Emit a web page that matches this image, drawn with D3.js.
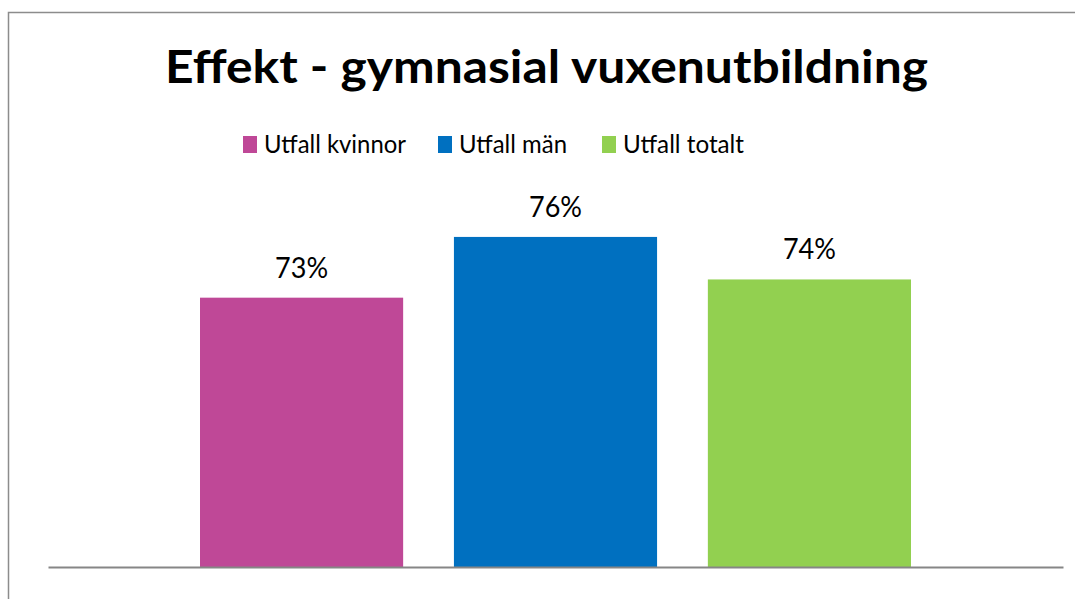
<!DOCTYPE html>
<html>
<head>
<meta charset="utf-8">
<script src="https://cdn.jsdelivr.net/npm/d3@7"></script>
<style>
  body { margin: 0; background: #fff; }
  text { font-family: Lato, "Open Sans", sans-serif; }
</style>
</head>
<body>
<div id="chart"></div>
<script>
// data
var categories = ["gymnasial vuxenutbildning"];
var series = ["Utfall kvinnor", "Utfall män", "Utfall totalt"];
var values = [0.733, 0.763, 0.742];
var colors = ["#BF4897", "#0070C0", "#92D050"];

var width = 1075, height = 599;
var plot = { left: 48, right: 1063, top: 162, bottom: 567 };

var svg = d3.select("#chart").append("svg")
  .attr("width", width)
  .attr("height", height);

// chart border (runs off the right edge)
svg.append("rect")
  .attr("x", 8.5).attr("y", 12.5)
  .attr("width", 1085).attr("height", 620)
  .attr("fill", "none")
  .attr("stroke", "#8c8c8c")
  .attr("stroke-width", 1.5);

// squeeze text to a target width, keeping the glyph height
function squeeze(sel, target) {
  sel.attr("textLength", target).attr("lengthAdjust", "spacingAndGlyphs");
}

var title = svg.append("text")
  .attr("x", 546.5).attr("y", 83)
  .attr("text-anchor", "middle")
  .attr("font-weight", "bold")
  .attr("font-size", 46)
  .text("Effekt - gymnasial vuxenutbildning");
squeeze(title, 763);

// scales
var x0 = d3.scaleBand()
  .domain(categories)
  .range([plot.left, plot.right])
  .paddingInner(0)
  .paddingOuter(0.2138);

var x1 = d3.scaleBand()
  .domain(series)
  .range([0, x0.bandwidth()])
  .paddingInner(0.2);

var y = d3.scaleLinear()
  .domain([0.6, 0.8])
  .range([plot.bottom, plot.top]);

var rows = series.map(function (s, i) {
  return { cat: categories[0], name: s, value: values[i], color: colors[i] };
});

var g = svg.append("g");

g.selectAll("rect.bar")
  .data(rows)
  .enter()
  .append("rect")
  .attr("class", "bar")
  .attr("x", function (d) { return x0(d.cat) + x1(d.name); })
  .attr("y", function (d) { return y(d.value); })
  .attr("width", x1.bandwidth())
  .attr("height", function (d) { return y(y.domain()[0]) - y(d.value); })
  .attr("fill", function (d) { return d.color; });

g.selectAll("text.lbl")
  .data(rows)
  .enter()
  .append("text")
  .attr("class", "lbl")
  .attr("x", function (d) { return x0(d.cat) + x1(d.name) + x1.bandwidth() / 2; })
  .attr("y", function (d) { return y(d.value) - 20; })
  .attr("text-anchor", "middle")
  .attr("font-size", 29)
  .attr("fill", "#000")
  .text(function (d) { return d3.format(".0%")(d.value); })
  .each(function () { squeeze(d3.select(this), 53); });

// baseline
var xAxis = d3.axisBottom(x0).tickSize(0).tickFormat("");
svg.append("g")
  .attr("transform", "translate(0," + plot.bottom + ")")
  .call(xAxis)
  .call(function (a) {
    a.select(".domain").attr("stroke", "#868686").attr("stroke-width", 2);
  });

// legend
var legendX = [243, 438, 602];
var legendW = [142, 108, 121];
var legend = svg.selectAll("g.leg")
  .data(rows)
  .enter()
  .append("g")
  .attr("class", "leg")
  .attr("transform", function (d, i) { return "translate(" + legendX[i] + ",0)"; });

legend.append("rect")
  .attr("x", 0).attr("y", 136)
  .attr("width", 14).attr("height", 17)
  .attr("fill", function (d) { return d.color; });

legend.append("text")
  .attr("x", 21).attr("y", 153)
  .attr("font-size", 25)
  .attr("fill", "#000")
  .text(function (d) { return d.name; })
  .each(function (d, i) { squeeze(d3.select(this), legendW[i]); });
</script>
</body>
</html>
